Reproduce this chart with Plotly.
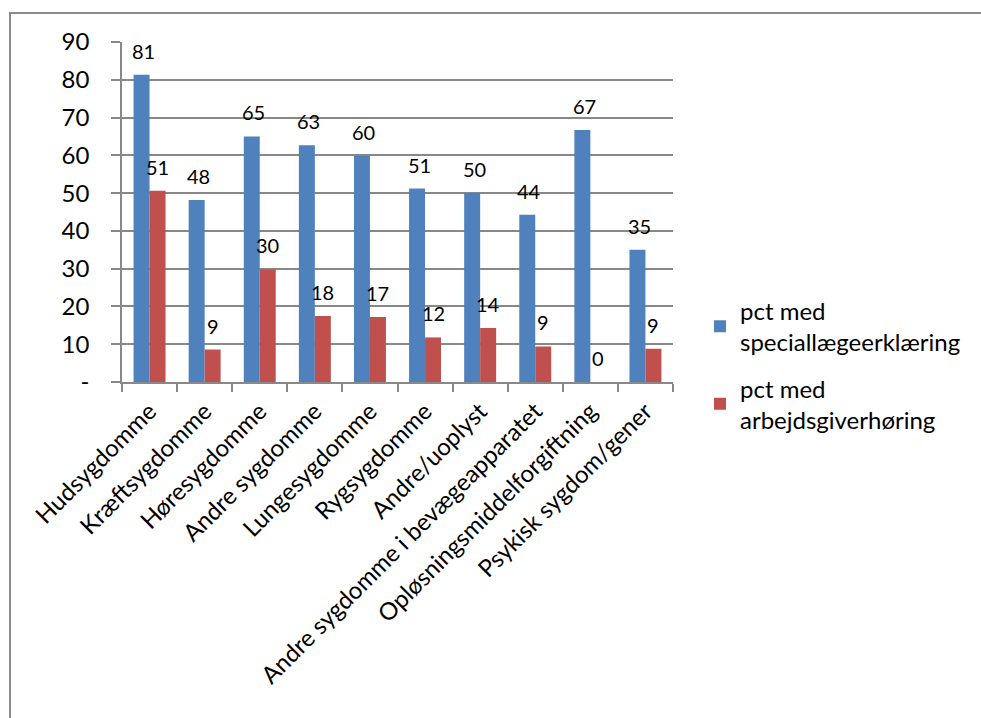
import plotly.graph_objects as go

categories = ["Hudsygdomme", "Kræftsygdomme", "Høresygdomme", "Andre sygdomme",
              "Lungesygdomme", "Rygsygdomme", "Andre/uoplyst",
              "Andre sygdomme i bevægeapparatet", "Opløsningsmiddelforgiftning",
              "Psykisk sygdom/gener"]
special = [81.3, 48.2, 65.0, 62.7, 59.9, 51.2, 50.1, 44.3, 66.7, 35.0]
arbejd = [50.6, 8.6, 29.8, 17.5, 17.2, 11.8, 14.3, 9.4, 0.0, 8.8]
series_names = ["pct med<br>speciallægeerklæring", "pct med<br>arbejdsgiverhøring"]
yticks = [0, 10, 20, 30, 40, 50, 60, 70, 80, 90]
yticktext = ["-", "10", "20", "30", "40", "50", "60", "70", "80", "90"]

BLUE = "#4F81BD"
RED = "#C0504D"
GRID = "#888888"
FONT = "Lato"

fig = go.Figure()
fig.add_trace(go.Bar(x=categories, y=special, name=series_names[0], legendgroup="a",
                     marker=dict(color=BLUE, line=dict(width=0))))
fig.add_trace(go.Bar(x=categories, y=arbejd, name=series_names[1], legendgroup="b",
                     marker=dict(color=RED, line=dict(width=0))))

annotations = []
for c, v in zip(categories, special):
    annotations.append(dict(x=c, y=v, xref="x", yref="y", text=f"{v:.0f}",
                            showarrow=False, xshift=-6, yshift=24,
                            font=dict(family=FONT, size=20, color="#000")))
for c, v in zip(categories, arbejd):
    annotations.append(dict(x=c, y=v, xref="x", yref="y", text=f"{v:.0f}",
                            showarrow=False, xshift=8, yshift=24,
                            font=dict(family=FONT, size=20, color="#000")))

L, R, T, B = 122, 673, 42, 382.5
W, H = 981, 718
pw, ph = R - L, B - T
def px2x(px):
    return (px - L) / pw
def py2y(py):
    return (B - py) / ph

fig.update_layout(
    width=W, height=H,
    margin=dict(l=L, r=W - R, t=T, b=H - B, pad=0),
    paper_bgcolor="white", plot_bgcolor="white",
    barmode="group", bargap=0.42, bargroupgap=0,
    font=dict(family=FONT, color="#000"),
    showlegend=True,
    legend=dict(x=px2x(700), y=py2y(289), xanchor="left", yanchor="top",
                font=dict(family=FONT, size=24, color="#000"),
                itemwidth=30, tracegroupgap=12, bgcolor="rgba(0,0,0,0)"),
    annotations=annotations,
    shapes=[dict(type="rect", xref="paper", yref="paper",
                 x0=px2x(10), x1=px2x(1000), y0=py2y(740), y1=py2y(13),
                 line=dict(color="#8c8c8c", width=2), fillcolor="rgba(0,0,0,0)",
                 layer="below")],
    xaxis=dict(type="category", showgrid=False, showline=True, linecolor=GRID,
               linewidth=1.5, ticks="outside", tickson="boundaries", ticklen=8,
               tickcolor=GRID, tickwidth=1.5, tickangle=-45, ticklabelstandoff=4,
               tickfont=dict(family=FONT, size=24, color="#000")),
    yaxis=dict(range=[0, 90], tickvals=yticks, ticktext=yticktext,
               showgrid=True, gridcolor=GRID, gridwidth=1.5,
               showline=True, linecolor=GRID, linewidth=1.5,
               ticks="outside", ticklen=9, tickcolor=GRID, tickwidth=1.5,
               ticklabelstandoff=17, zeroline=False,
               tickfont=dict(family=FONT, size=24, color="#000")),
)

fig.write_html("out.html")
